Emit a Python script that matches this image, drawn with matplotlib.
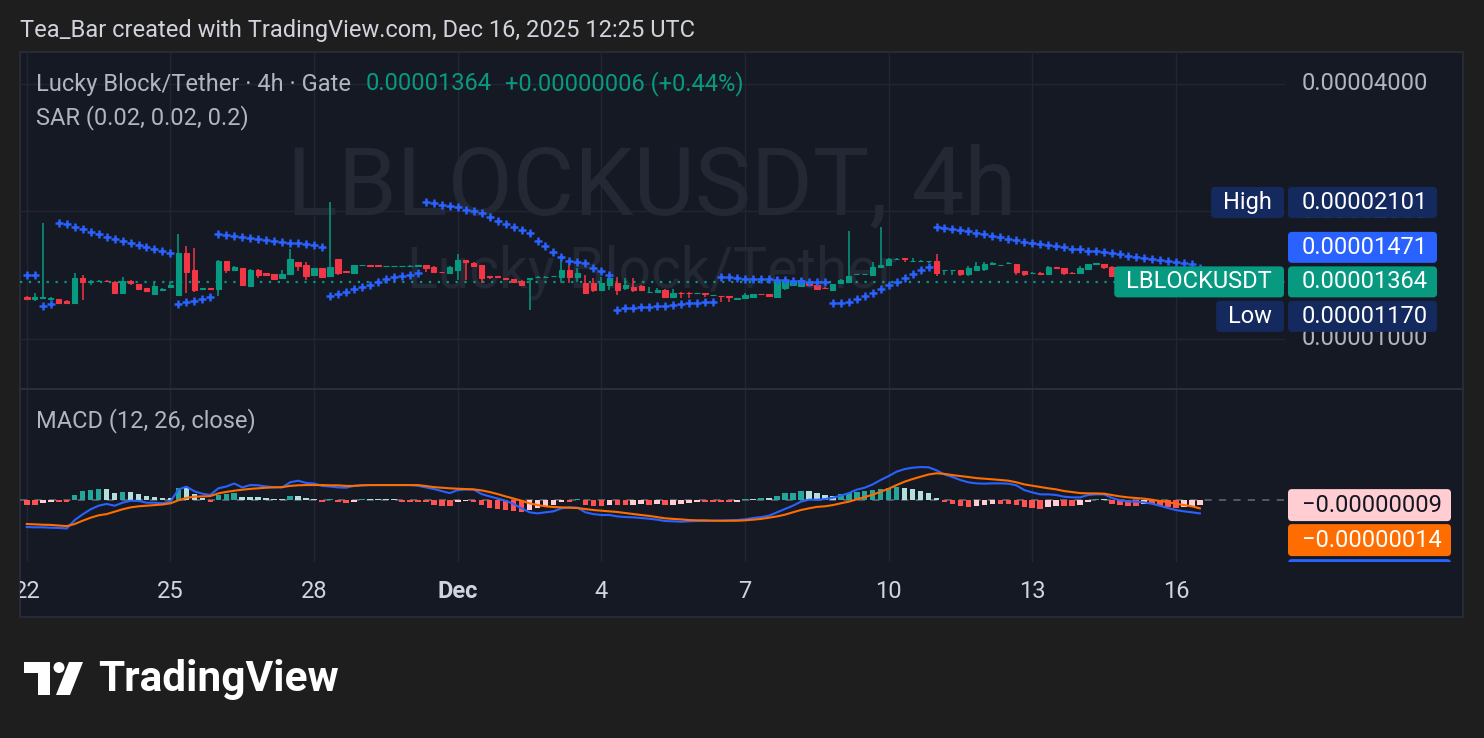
import matplotlib
matplotlib.use("Agg")
import matplotlib.pyplot as plt
import matplotlib.patches as patches
import numpy as np
import pandas as pd

plt.rcParams['font.family'] = ['Roboto', 'DejaVu Sans']

# LBLOCK/USDT 4h candles (Gate), prices in units of 1e-8 USDT, first bar Nov 22 2025 00:00 UTC
opens = [1258, 1241, 1247, 1243, 1243, 1229, 1214, 1391, 1365, 1370,
         1372, 1366, 1286, 1371, 1349, 1318, 1277, 1305, 1329, 1270,
         1598, 1455, 1312, 1316, 1310, 1528, 1455, 1468, 1334, 1455,
         1429, 1421, 1395, 1424, 1520, 1495, 1416, 1468, 1408, 1542,
         1447, 1434, 1495, 1495, 1492, 1487, 1487, 1487, 1488, 1491,
         1495, 1481, 1441, 1434, 1455, 1536, 1514, 1495, 1408, 1405,
         1393, 1384, 1371, 1386, 1401, 1401, 1405, 1399, 1455, 1399,
         1354, 1354, 1305, 1341, 1354, 1318, 1329, 1334, 1291, 1293,
         1305, 1258, 1286, 1286, 1281, 1282, 1269, 1263, 1260, 1246,
         1248, 1254, 1277, 1277, 1258, 1318, 1341, 1334, 1358, 1341,
         1320, 1305, 1354, 1366, 1420, 1420, 1416, 1481, 1495, 1545,
         1551, 1528, 1528, 1528, 1530, 1453, 1453, 1455, 1424, 1455,
         1460, 1507, 1494, 1512, 1503, 1447, 1432, 1434, 1424, 1476,
         1468, 1434, 1429, 1460, 1507, 1503, 1481, 1408, 1395, 1388,
         1380, 1372, 1378, 1366, 1352, 1345, 1350, 1358]
highs = [1263, 1282, 1879, 1256, 1245, 1233, 1429, 1416, 1375, 1375,
         1375, 1371, 1399, 1375, 1352, 1320, 1366, 1316, 1371, 1769,
         1662, 1636, 1320, 1320, 1536, 1532, 1483, 1471, 1459, 1459,
         1431, 1424, 1455, 1631, 1522, 1520, 1471, 1471, 2101, 1545,
         1451, 1496, 1499, 1497, 1494, 1491, 1491, 1491, 1492, 1497,
         1499, 1483, 1443, 1487, 1587, 1540, 1520, 1499, 1412, 1408,
         1395, 1386, 1375, 1393, 1405, 1405, 1410, 1536, 1522, 1468,
         1416, 1391, 1403, 1429, 1403, 1391, 1391, 1338, 1329, 1318,
         1309, 1310, 1288, 1288, 1285, 1284, 1272, 1264, 1262, 1250,
         1282, 1280, 1279, 1279, 1403, 1391, 1371, 1391, 1363, 1345,
         1323, 1352, 1382, 1794, 1424, 1424, 1522, 1840, 1549, 1550,
         1553, 1549, 1533, 1532, 1587, 1457, 1457, 1457, 1487, 1522,
         1522, 1522, 1497, 1516, 1507, 1449, 1436, 1436, 1487, 1479,
         1471, 1436, 1487, 1507, 1511, 1505, 1483, 1412, 1400, 1392,
         1385, 1383, 1380, 1370, 1356, 1354, 1362, 1368]
lows = [1236, 1231, 1243, 1233, 1213, 1216, 1212, 1236, 1341, 1363,
        1363, 1277, 1284, 1341, 1307, 1295, 1274, 1302, 1327, 1267,
        1282, 1293, 1305, 1305, 1263, 1429, 1451, 1338, 1331, 1395,
        1412, 1382, 1393, 1420, 1449, 1378, 1408, 1401, 1405, 1416,
        1435, 1431, 1491, 1489, 1487, 1485, 1485, 1485, 1486, 1489,
        1439, 1431, 1433, 1431, 1378, 1378, 1483, 1358, 1386, 1397,
        1384, 1362, 1336, 1170, 1397, 1398, 1401, 1354, 1354, 1366,
        1284, 1293, 1302, 1305, 1270, 1305, 1293, 1302, 1289, 1291,
        1256, 1256, 1248, 1248, 1279, 1258, 1266, 1225, 1225, 1244,
        1246, 1252, 1272, 1261, 1256, 1305, 1338, 1331, 1338, 1307,
        1313, 1302, 1351, 1363, 1417, 1417, 1412, 1479, 1491, 1542,
        1522, 1516, 1525, 1509, 1408, 1416, 1416, 1408, 1408, 1453,
        1449, 1499, 1491, 1509, 1416, 1408, 1429, 1422, 1421, 1470,
        1416, 1429, 1427, 1457, 1505, 1465, 1405, 1390, 1383, 1375,
        1367, 1368, 1361, 1347, 1340, 1342, 1347, 1354]
closes = [1241, 1254, 1253, 1250, 1214, 1218, 1395, 1365, 1373, 1372,
          1370, 1282, 1371, 1354, 1310, 1298, 1334, 1312, 1341, 1598,
          1441, 1305, 1316, 1314, 1528, 1455, 1476, 1341, 1455, 1416,
          1416, 1386, 1421, 1545, 1487, 1408, 1468, 1403, 1476, 1429,
          1439, 1495, 1497, 1491, 1489, 1489, 1489, 1489, 1490, 1495,
          1467, 1437, 1437, 1476, 1536, 1522, 1487, 1391, 1401, 1401,
          1388, 1366, 1339, 1391, 1403, 1403, 1408, 1455, 1399, 1429,
          1286, 1305, 1354, 1391, 1305, 1341, 1305, 1305, 1293, 1305,
          1258, 1282, 1282, 1282, 1283, 1277, 1270, 1260, 1256, 1248,
          1270, 1277, 1274, 1263, 1378, 1378, 1366, 1378, 1341, 1310,
          1316, 1349, 1378, 1408, 1421, 1421, 1481, 1495, 1542, 1547,
          1545, 1530, 1530, 1530, 1429, 1455, 1455, 1424, 1468, 1487,
          1503, 1509, 1495, 1514, 1441, 1424, 1434, 1424, 1476, 1473,
          1429, 1431, 1468, 1503, 1509, 1476, 1408, 1395, 1388, 1380,
          1372, 1378, 1366, 1352, 1345, 1350, 1358, 1364]

# Parabolic SAR (0.02, 0.02, 0.2)
sar = [1416, 1416, 1197, 1210, 1879, 1869, 1841, 1819, 1792, 1773,
       1741, 1722, 1704, 1685, 1667, 1649, 1631, 1614, 1599, 1210,
       1223, 1231, 1245, 1258, 1769, 1763, 1751, 1738, 1729, 1720,
       1713, 1704, 1694, 1688, 1683, 1676, 1664, 1652, 1265, 1277,
       1293, 1310, 1329, 1341, 1366, 1383, 1399, 1408, 1416, 1434,
       2101, 2090, 2075, 2064, 2053, 2020, 2001, 1980, 1937, 1903,
       1869, 1834, 1809, 1776, 1707, 1655, 1608, 1565, 1525, 1522,
       1509, 1472, 1444, 1416, 1170, 1182, 1186, 1188, 1192, 1197,
       1199, 1203, 1210, 1214, 1218, 1220, 1225, 1403, 1399, 1396,
       1388, 1387, 1386, 1384, 1381, 1378, 1373, 1371, 1366, 1365,
       1361, 1214, 1218, 1223, 1245, 1263, 1282, 1310, 1341, 1366,
       1396, 1424, 1455, 1477, 1840, 1826, 1816, 1809, 1799, 1781,
       1767, 1754, 1738, 1726, 1713, 1694, 1685, 1676, 1664, 1655,
       1646, 1634, 1629, 1617, 1611, 1603, 1595, 1586, 1570, 1562,
       1553, 1545, 1534, 1526, 1517, 1509, 1503, 1471]

# MACD (12, 26, close), units of 1e-8
macd = [-45.5, -46, -46, -46.7, -47, -48, -34, -24.4, -16, -10,
        -7, -10, -5, -1.7, -2, -5, -5, -6, -3, 17,
        21.7, 14, 10, 8, 19, 22, 27, 20.5, 24.4, 24,
        22, 21, 20.5, 29, 31.7, 28, 27, 23, 22, 20.5,
        20, 23, 24, 24.4, 24.4, 24.4, 24.4, 24.4, 24.4, 23.3,
        20.5, 17.8, 14.4, 11, 16, 17, 17, 9.4, 5.5, 2,
        -1.7, -7, -14.4, -21, -22.8, -21, -19.4, -14.4, -12.8, -13.3,
        -21, -24, -25.5, -25.5, -27.8, -28.9, -29.4, -30.5, -31.7, -33.3,
        -35.5, -36, -36.7, -36, -35.5, -35.5, -35, -35, -34.4, -33.9,
        -32.8, -30.5, -29, -26.7, -21, -15.5, -10, -3.3, 0, 0,
        1, 3.3, 6.7, 11, 16.7, 20, 25.5, 32.8, 39.4, 46.7,
        51, 53.3, 54.4, 54, 49, 42, 37.8, 32.8, 29, 27.2,
        26.7, 27.2, 27.2, 26.7, 24, 16, 12.2, 8.9, 8.9, 7.8,
        5, 3.9, 3.9, 7.8, 8.9, 8.9, 2.8, -1, -2.8, -3.3,
        -4.4, -6.7, -10, -13.9, -17.2, -19.4, -21, -22.8]
signal = [-40.5, -41, -41.7, -42, -43, -44, -40.5, -35, -30, -26,
          -24, -20, -16, -12.8, -11, -10, -9, -8, -6, -1,
          3, 5, 5.5, 6, 10.5, 13, 15, 16.7, 18, 19,
          20, 20.5, 21, 23, 24, 24.4, 24.4, 24.4, 24, 24,
          23, 23, 24, 24.4, 24.4, 24.4, 24.4, 24.4, 24.4, 24.4,
          22.8, 21, 20, 19, 18.3, 17.8, 17.2, 15.5, 12.8, 9.4,
          5.5, 2, -1.7, -6, -8.9, -11, -12.2, -12.8, -13.3, -13.9,
          -15.5, -17.2, -18.3, -19.4, -20.5, -22.2, -24, -25.5, -27, -29,
          -31, -32, -32.8, -33.9, -34.4, -34.4, -35, -35, -35, -35,
          -34.4, -33.3, -32, -30, -27.8, -25, -21, -17.2, -14.4, -12,
          -11, -9, -6, -3.3, 0.5, 4.4, 8.3, 13.3, 18.3, 24.4,
          30, 34.4, 38.3, 42, 44, 43, 41, 39.4, 37.8, 36,
          35, 34, 32.8, 31.7, 29, 25.5, 23.3, 21, 19, 17.2,
          14.4, 12.8, 11, 10.5, 10.5, 10, 7.8, 5.5, 3.9, 2.8,
          1.7, 0, -2.2, -3.9, -6.7, -8.9, -11, -14.4]
hist = [-8, -8, -6, -4, -4, -4, 8, 14, 17, 18,
        18, 11, 13, 13, 9, 6, 4, 3, 3, 19,
        19, 9, 3, -3, 8, 9, 11, 4, 4, 4,
        3, 2, 2, 6, 6, 3, 2, -3, 1, -3,
        -5, -3, 1, 1, 1, 1, 1, -3, -3, -3,
        -4, -9, -10, -10, -4, -2, -3, -9, -13, -16,
        -17, -19, -20, -17, -14, -10, -8, -3, -3, 1,
        -9, -10, -10, -9, -9, -9, -8, -7, -9, -7,
        -9, -8, -7, -6, -4, -4, -4, -4, -4, -3,
        1, 1, 3, 3, 6, 11, 12, 14, 14, 11,
        8, 7, 9, 12, 13, 14, 16, 18, 20, 22,
        20, 18, 14, 11, 3, -4, -7, -10, -12, -10,
        -9, -7, -7, -7, -9, -12, -13, -16, -12, -10,
        -10, -10, -8, -4, 1, 1, -7, -9, -10, -10,
        -7, -7, -10, -12, -13, -12, -10, -9]

price_ticks = [4000, 2000, 1000]
day_labels = ['22', '25', '28', 'Dec', '4', '7', '10', '13', '16']
day_dates = ['2025-11-22', '2025-11-25', '2025-11-28', '2025-12-01', '2025-12-04',
             '2025-12-07', '2025-12-10', '2025-12-13', '2025-12-16']

times = pd.date_range('2025-11-22 00:00', periods=len(closes), freq='4h')
tick_pos = [times.get_loc(pd.Timestamp(d)) for d in day_dates]
x = np.arange(len(closes))
o, h, l, c = map(np.array, (opens, highs, lows, closes))

UP, DOWN = '#089981', '#f23645'
BG_OUT, BG = '#1e1e1e', '#151924'
GRID = '#232632'
TXT = '#d1d4dc'
FS = 17
W, H = 1484, 738


def rect(x0, y0, x1, y1):
    return [x0 / W, 1 - y1 / H, (x1 - x0) / W, (y1 - y0) / H]


def fmt(v):
    return f"{v * 1e-8:.8f}".replace('-', '\u2212')


fig = plt.figure(figsize=(W / 100, H / 100), dpi=100, facecolor=BG_OUT)

# background / frame in pixel coords
bg = fig.add_axes([0, 0, 1, 1])
bg.set_xlim(0, W)
bg.set_ylim(H, 0)
bg.axis('off')
bg.add_patch(patches.Rectangle((20, 52), 1443, 565, facecolor=BG, edgecolor='#2a2e39', lw=1.2))
bg.plot([20, 1463], [389, 389], color='#2a2e39', lw=1.5)

xlim = (-0.852, 157.67)

# ---- price pane
ax = fig.add_axes(rect(20, 52, 1285, 388))
ax.set_facecolor('none')
ax.set_yscale('log')
ax.set_xlim(*xlim)
ax.set_ylim(766, 4760)
for s in ax.spines.values():
    s.set_visible(False)
ax.set_xticks([])
ax.set_yticks([])
ax.minorticks_off()
for p in tick_pos:
    ax.axvline(p, color=GRID, lw=1, zorder=0)
for p in price_ticks:
    ax.axhline(p, color=GRID, lw=1, zorder=0)

ax.text(0.4995, 0.595, 'LBLOCKUSDT, 4h', transform=ax.transAxes, ha='center', va='center',
        fontsize=68, color='#242834', zorder=0.5)
ax.text(0.4995, 0.345, 'Lucky Block/Tether', transform=ax.transAxes, ha='center', va='center',
        fontsize=41, color='#242834', zorder=0.5)

cols = np.where(c >= o, UP, DOWN)
ax.vlines(x, l, h, colors=cols, lw=1.1, zorder=2)
ax.bar(x, c - o, bottom=o, width=0.68, color=cols, edgecolor=cols, lw=0.8, zorder=3)
ax.plot(x, sar, ls='none', marker='+', ms=6, mew=1.8, color='#2962ff', zorder=4)
ax.axhline(c[-1], color=UP, lw=1.6, ls=(0, (1, 3)), zorder=1)

# ---- MACD pane
mx = fig.add_axes(rect(20, 390, 1285, 562))
mx.set_facecolor('none')
mx.set_xlim(*xlim)
mx.set_ylim(-103.8, 182.8)
for s in mx.spines.values():
    s.set_visible(False)
mx.set_xticks([])
mx.set_yticks([])
for p in tick_pos:
    mx.axvline(p, color=GRID, lw=1, zorder=0)
mx.axhline(0, color='#787b86', lw=1.3, ls=(0, (4, 4)), alpha=0.7, zorder=1)
hv = np.array(hist, dtype=float)
prev = np.concatenate([[hv[0]], hv[:-1]])
hcol = np.where(hv >= 0, np.where(hv > prev, '#26a69a', '#b2dfdb'),
                np.where(hv > prev, '#ffcdd2', '#ff5252'))
mx.bar(x, hv, width=0.7, color=hcol, zorder=2)
mx.plot(x, macd, color='#2962ff', lw=1.5, zorder=3)
mx.plot(x, signal, color='#ff6d00', lw=1.5, zorder=4)

# ---- overlay: legends, axis labels, price tags
ov = fig.add_axes([0, 0, 1, 1])
ov.set_xlim(0, W)
ov.set_ylim(H, 0)
ov.axis('off')
ov.set_zorder(10)


def ypix(a, v):
    return H - a.transData.transform((0, v))[1]


def xpix(v):
    return ax.transData.transform((v, 1000))[0]


ov.text(20, 31, 'Tea_Bar created with TradingView.com, Dec 16, 2025 12:25 UTC',
        ha='left', va='center', fontsize=FS, color=TXT)
ov.text(36, 84, 'Lucky Block/Tether \u00b7 4h \u00b7 Gate', ha='left', va='center', fontsize=FS, color='#b2b5be')
chg = c[-1] - c[-2]
ov.text(366, 84, fmt(c[-1]), ha='left', va='center', fontsize=FS, color=UP)
ov.text(505, 84, f"+{fmt(chg)} (+{chg / c[-2] * 100:.2f}%)", ha='left', va='center', fontsize=FS, color=UP)
ov.text(36, 118, 'SAR (0.02, 0.02, 0.2)', ha='left', va='center', fontsize=FS, color='#b2b5be')
ov.text(36, 421, 'MACD (12, 26, close)', ha='left', va='center', fontsize=FS, color='#b2b5be')

for p in price_ticks:
    ov.text(1302, ypix(ax, p), fmt(p), ha='left', va='center', fontsize=FS, color='#b2b5be', zorder=2)

taxis_clip = patches.Rectangle((20, 560), 1265, 57, transform=ov.transData)
for p, lab in zip(tick_pos, day_labels):
    t = ov.text(xpix(p), 591, lab, ha='center', va='center', fontsize=FS, color=TXT,
                fontweight='bold' if lab == 'Dec' else 'normal')
    t.set_clip_on(True)
    t.set_clip_path(taxis_clip)

fig.canvas.draw()
rend = fig.canvas.get_renderer()


def tag(yc, value, color, tcolor, name=None, right=1439, clip=None, hh=31):
    b = patches.FancyBboxPatch((1288, yc - hh / 2), right - 1290, hh, boxstyle='round,pad=0,rounding_size=4',
                               facecolor=color, edgecolor='none', zorder=5)
    ov.add_patch(b)
    t = ov.text(1302, yc, value, ha='left', va='center', fontsize=FS, color=tcolor, zorder=6)
    items = [b, t]
    if name:
        tn = ov.text(1272, yc, name, ha='right', va='center', fontsize=FS, color=tcolor, zorder=6)
        ext = tn.get_window_extent(rend)
        nb = patches.FancyBboxPatch((ext.x0 - 12, yc - hh / 2), 1284 - ext.x0 + 12, hh,
                                    boxstyle='round,pad=0,rounding_size=4', facecolor=color,
                                    edgecolor='none', zorder=5)
        ov.add_patch(nb)
        items += [tn, nb]
    if clip is not None:
        for it in items:
            it.set_clip_on(True)
            it.set_clip_path(clip)


def spread(ys, anchor, gap=34.5):
    ys = list(ys)
    order = np.argsort(ys)
    k = list(order).index(anchor)
    for j in range(k - 1, -1, -1):
        ys[order[j]] = min(ys[order[j]], ys[order[j + 1]] - gap)
    for j in range(k + 1, len(order)):
        ys[order[j]] = max(ys[order[j]], ys[order[j - 1]] + gap)
    return ys


NAVY = '#142a5e'
vals = [max(highs), sar[-1], c[-1], min(lows)]
ys = spread([ypix(ax, v) for v in vals], anchor=2)
tag(ys[0], fmt(vals[0]), NAVY, 'white', 'High')
tag(ys[1], fmt(vals[1]), '#2962ff', 'white')
tag(ys[2], fmt(vals[2]), UP, 'white', 'LBLOCKUSDT')
tag(ys[3], fmt(vals[3]), NAVY, 'white', 'Low')

mclip = patches.Rectangle((1285, 390), 180, 172, transform=ov.transData)
mvals = [hist[-1], signal[-1], macd[-1]]
mys = spread([ypix(mx, v) for v in mvals], anchor=0, gap=35)
tag(mys[0], fmt(mvals[0]), '#ffcdd2', '#131722', right=1453, clip=mclip, hh=32)
tag(mys[1], fmt(round(mvals[1])), '#ff6d00', 'white', right=1453, clip=mclip, hh=32)
tag(mys[2], fmt(round(mvals[2])), '#2962ff', 'white', right=1453, clip=mclip, hh=32)

# footer logo
ov.add_patch(patches.Polygon([(24, 662), (50, 662), (50, 695), (38, 695), (38, 673), (24, 673)],
                             closed=True, facecolor='white'))
ov.add_patch(patches.Circle((59, 667.5), 5.5, facecolor='white'))
ov.add_patch(patches.Polygon([(69, 662), (83, 662), (70, 695), (56, 695)], closed=True, facecolor='white'))
ov.text(98, 679, 'TradingView', ha='left', va='center', fontsize=30.5, fontweight='bold', color='white')

fig.savefig('out.png', dpi=100, facecolor=BG_OUT)
